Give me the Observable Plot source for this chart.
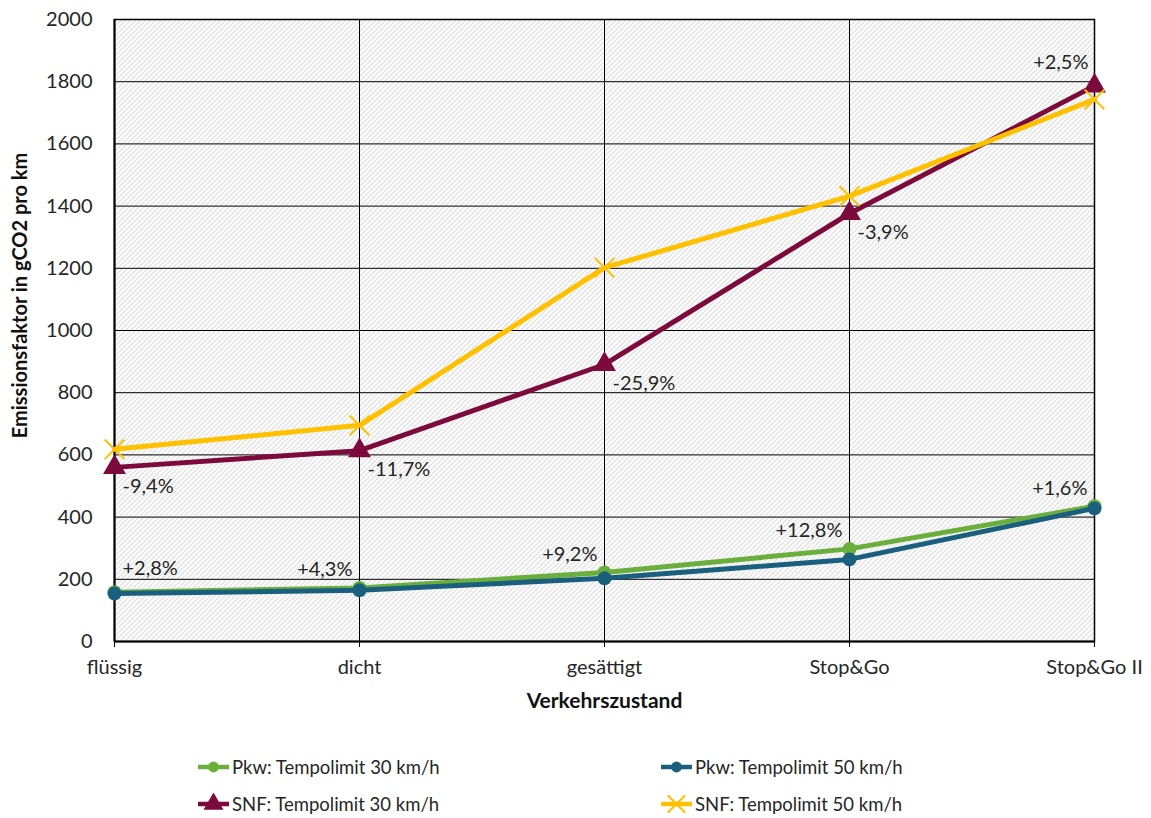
<!DOCTYPE html>
<html>
<head>
<meta charset="utf-8">
<script src="https://cdn.jsdelivr.net/npm/d3@7"></script>
<script src="https://cdn.jsdelivr.net/npm/@observablehq/plot@0.6"></script>
<style>
  body { margin: 0; background: #fff; font-family: Lato, "Open Sans", sans-serif; color: #262626; }
  #chart { width: 1151px; }
  .legend { display: grid; grid-template-columns: 463px 320px; row-gap: 15px; padding-left: 197px; margin-top: 26px; }
  .item { display: flex; align-items: center; font-family: Lato, sans-serif; font-size: 18.5px; color: #262626; }
  .item svg { margin-right: 2px; }
</style>
</head>
<body>
<div id="chart"></div>
<div class="legend" id="legend"></div>
<script>
// Verkehrszustände (x-Achse)
const zustaende = ["flüssig", "dicht", "gesättigt", "Stop&Go", "Stop&Go II"];

// Emissionsfaktoren in gCO2 pro km
const pkw30 = [158.3, 172.1, 221.7, 297.8, 434.8];
const pkw50 = [154, 165, 203, 264, 428];
const snf30 = [559.9, 613.7, 890.7, 1376.2, 1786.6];
const snf50 = [618, 695, 1202, 1432, 1743];

// Veränderung Tempolimit 30 gegenüber 50 km/h in %
const aenderungPkw = [2.8, 4.3, 9.2, 12.8, 1.6];
const aenderungSnf = [-9.4, -11.7, -25.9, -3.9, 2.5];

const yTicks = [0, 200, 400, 600, 800, 1000, 1200, 1400, 1600, 1800, 2000];

const reihen = [
  {name: "Pkw: Tempolimit 30 km/h", werte: pkw30, farbe: "#6aae3c", symbol: "circle"},
  {name: "Pkw: Tempolimit 50 km/h", werte: pkw50, farbe: "#1b5f7f", symbol: "circle"},
  {name: "SNF: Tempolimit 30 km/h", werte: snf30, farbe: "#7d0a3c", symbol: "triangle"},
  {name: "SNF: Tempolimit 50 km/h", werte: snf50, farbe: "#ffc000", symbol: "times"}
];

const zeilen = (r) => zustaende.map((z, i) => ({reihe: r.name, zustand: z, wert: r.werte[i]}));

const fmtProzent = (p) => (p > 0 ? "+" : "") + p.toFixed(1).replace(".", ",") + "%";

// Beschriftungen: Pkw über Tempo-30-Punkt, SNF unter Tempo-30-Punkt (letzter darüber)
const pkwLabels = zustaende.map((z, i) => ({zustand: z, wert: pkw30[i], text: fmtProzent(aenderungPkw[i]), i}));
const snfLabels = zustaende.map((z, i) => ({zustand: z, wert: snf30[i], text: fmtProzent(aenderungSnf[i]), i}));
const letzter = zustaende.length - 1;

// Schraffur für die Zeichenfläche
function schraffur() {
  const ns = "http://www.w3.org/2000/svg";
  const defs = document.createElementNS(ns, "defs");
  defs.innerHTML = `<pattern id="schraffur" patternUnits="userSpaceOnUse" width="5" height="5">
      <rect width="5" height="5" fill="#ffffff"/>
      <path d="M-1,1 L1,-1 M0,5 L5,0 M4,6 L6,4" stroke="#c4c4c4" stroke-width="1"/>
    </pattern>`;
  return defs;
}

const marks = [
  schraffur,
  Plot.frame({fill: "url(#schraffur)"}),
  Plot.ruleY(yTicks, {stroke: "#000", strokeWidth: 1}),
  Plot.ruleX(zustaende, {stroke: "#000", strokeWidth: 1}),
  Plot.frame({stroke: "#000", strokeWidth: 1.5}),
  Plot.ruleY([0], {stroke: "#000", strokeWidth: 2}),
  Plot.ruleX([zustaende[0]], {stroke: "#000", strokeWidth: 2}),
  Plot.axisY({ticks: yTicks, tickSize: 0, tickPadding: 22, tickFormat: (d) => String(d), label: null}),
  Plot.axisX({tickSize: 6, tickPadding: 12, label: null, stroke: "#000"}),
  Plot.text(["Emissionsfaktor in gCO2 pro km"], {frameAnchor: "left", textAnchor: "middle", rotate: -90, dx: -94, dy: -35, fontWeight: "bold", fontSize: 20, fill: "#111"}),
  Plot.text(["Verkehrszustand"], {frameAnchor: "bottom", dy: 66, fontWeight: "bold", fontSize: 21, fill: "#111"})
];

for (const r of reihen) {
  const d = zeilen(r);
  marks.push(Plot.line(d, {x: "zustand", y: "wert", stroke: r.farbe, strokeWidth: 5}));
  if (r.symbol === "times") {
    marks.push(Plot.dot(d, {x: "zustand", y: "wert", symbol: "times", r: 9, stroke: r.farbe, strokeWidth: 2}));
  } else {
    marks.push(Plot.dot(d, {x: "zustand", y: "wert", symbol: r.symbol, r: r.symbol === "triangle" ? 8.5 : 7, fill: r.farbe, stroke: "none"}));
  }
}

marks.push(
  Plot.text(pkwLabels.filter((d) => d.i === 0), {x: "zustand", y: "wert", text: "text", textAnchor: "start", dx: 8, dy: -24}),
  Plot.text(pkwLabels.filter((d) => d.i > 0), {x: "zustand", y: "wert", text: "text", textAnchor: "end", dx: -7, dy: -18}),
  Plot.text(snfLabels.filter((d) => d.i < letzter), {x: "zustand", y: "wert", text: "text", textAnchor: "start", dx: 8, dy: 19}),
  Plot.text(snfLabels.filter((d) => d.i === letzter), {x: "zustand", y: "wert", text: "text", textAnchor: "end", dx: -6, dy: -23})
);

const chart = Plot.plot({
  width: 1151,
  height: 730,
  marginLeft: 114,
  marginRight: 57,
  marginTop: 19,
  marginBottom: 89,
  style: {fontFamily: "Lato, 'Open Sans', sans-serif", fontSize: "20px", color: "#262626", background: "#fff"},
  x: {type: "point", domain: zustaende, padding: 0},
  y: {domain: [0, 2000]},
  marks
});
document.getElementById("chart").append(chart);

// Legende
const legende = document.getElementById("legend");
for (const r of reihen) {
  const item = document.createElement("div");
  item.className = "item";
  const ns = "http://www.w3.org/2000/svg";
  const svg = document.createElementNS(ns, "svg");
  svg.setAttribute("width", 33);
  svg.setAttribute("height", 22);
  const sym = {circle: d3.symbolCircle, triangle: d3.symbolTriangle, times: d3.symbolTimes}[r.symbol];
  const size = r.symbol === "circle" ? Math.PI * 30 : r.symbol === "triangle" ? Math.PI * 55 : Math.PI * 64;
  const p = d3.symbol(sym, size)();
  const markStyle = r.symbol === "times" ? `fill="none" stroke="${r.farbe}" stroke-width="2"` : `fill="${r.farbe}"`;
  svg.innerHTML = `<line x1="1" x2="32" y1="11" y2="11" stroke="${r.farbe}" stroke-width="4.5"/>
    <path d="${p}" transform="translate(16.5,11)" ${markStyle}/>`;
  item.append(svg);
  item.append(document.createTextNode(r.name));
  legende.append(item);
}
</script>
</body>
</html>
